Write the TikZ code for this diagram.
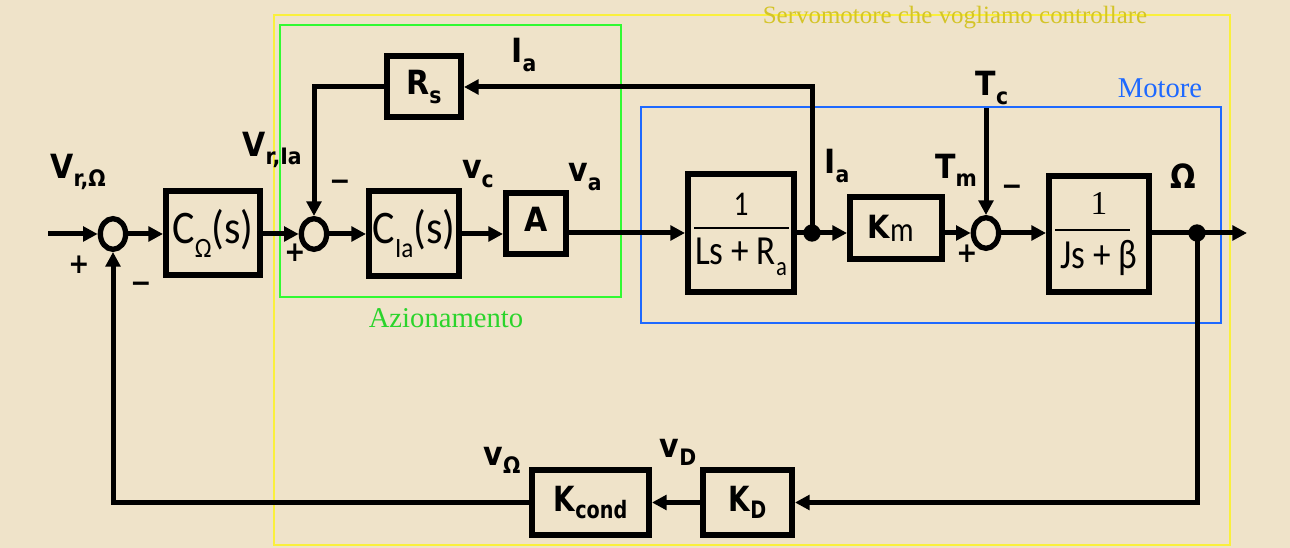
\documentclass[tikz,border=0pt]{standalone}
\usepackage{fontspec}
\usetikzlibrary{arrows.meta,shapes.geometric,calc}
\newfontfamily\lbl{DejaVu Sans Bold}[FakeStretch=0.9]
\newfontfamily\lblk{DejaVu Sans Bold}[FakeStretch=0.8]
\newfontfamily\bxc{Carlito}[FakeStretch=0.9]
\newfontfamily\bxf{Carlito}[FakeStretch=0.85]
\newfontfamily\srf{Liberation Serif}
\definecolor{bg}{RGB}{239,227,201}
\definecolor{yline}{RGB}{250,240,60}
\definecolor{ytext}{RGB}{212,196,40}
\definecolor{gline}{RGB}{50,250,50}
\definecolor{bline}{RGB}{30,105,255}
\newcommand\LB[2]{{\fontsize{25}{25}\lbl #1\raisebox{-0.45ex}{\fontsize{17}{17}\selectfont #2}}}
\newcommand\LK[2]{{\fontsize{26}{26}\lblk #1\raisebox{-0.4ex}{\fontsize{18}{18}\selectfont #2}}}
\newcommand\BX[1]{{\fontsize{35}{35}\bxc #1}}
\newcommand\bsub[1]{\raisebox{-0.3em}{\fontsize{21}{21}\selectfont #1}}
\begin{document}
\begin{tikzpicture}[x=0.75pt,y=-0.75pt,
  blk/.style={draw, line width=4.5pt, inner sep=0pt},
  sumn/.style={draw, ellipse, line width=4pt, minimum width=19pt, minimum height=23pt, inner sep=0pt},
  conn/.style={line width=3.75pt, -{Triangle[length=11pt,width=11pt]}},
  wire/.style={line width=3.75pt},
  dotn/.style={circle, fill=black, minimum size=13pt, inner sep=0pt},
  lab/.style={inner sep=0pt},
  sg/.style={inner sep=0pt, font=\fontsize{21}{21}\lbl}]
\fill[bg] (0,0) rectangle (1290,548);
\useasboundingbox (0,0) rectangle (1290,548);

% overlay frames
\draw[yline, line width=1.6pt] (274,15) rectangle (1230,545);
\draw[gline, line width=1.6pt] (280,25) rectangle (621,297);
\draw[bline, line width=1.6pt] (641,107) rectangle (1221,323);
\node[lab, text=ytext, font=\fontsize{18.7}{19}\srf] (tserv) at (955,18) {Servomotore che vogliamo controllare};
\node[lab, text=gline!85!black, font=\fontsize{21.5}{22}\srf] (taz) at (446,318) {Azionamento};
\node[lab, text=bline, font=\fontsize{21.5}{22}\srf] (tmot) at (1160,88) {Motore};

% summing junctions
\node[sumn] (s1) at (113,234) {};
\node[sumn] (s2) at (314,234) {};
\node[sumn] (s3) at (986,233) {};

% blocks
\node[blk, minimum width=70.5pt, minimum height=63pt] (CO) at (213,233) {\BX{C\bsub{Ω}(s)}};
\node[blk, minimum width=67.5pt, minimum height=63.75pt] (CIa) at (414,234) {\BX{C\bsub{Ia}(s)}};
\node[blk, minimum width=45pt, minimum height=45.75pt] (A) at (536,223.5) {\raisebox{3pt}{\LB{A}{}}};
\node[blk, minimum width=55.5pt, minimum height=45.75pt] (Rs) at (424,87) {\LB{R}{s}};
\node[blk, minimum width=79.5pt, minimum height=88.5pt] (LR) at (741,233) {};
\node[blk, minimum width=69pt, minimum height=46.5pt] (Km) at (896,228) {\hspace*{-8pt}{\fontsize{24}{24}\lbl K}\raisebox{-0.5ex}{\fontsize{26}{26}\bxf m}};
\node[blk, minimum width=75pt, minimum height=87pt] (JB) at (1099,234) {};
\node[blk, minimum width=66.75pt, minimum height=48.75pt] (KD) at (747.5,502.5) {\LK{K}{D}};
\node[blk, minimum width=87.75pt, minimum height=48.75pt] (Kc) at (590.5,502.5) {\LK{K}{cond}};

% fractions
\node[lab, font=\fontsize{26}{26}\bxf] (n1) at (741,204) {1};
\node[lab, font=\fontsize{31}{31}\bxf] (d1) at (741,257) {Ls + R\raisebox{-0.25em}{\fontsize{20}{20}\selectfont a}};
\draw[line width=1.4pt] (694,228) -- (789,228);
\node[lab, font=\fontsize{25}{25}\srf] (n2) at (1099,204) {1};
\node[lab, font=\fontsize{31}{31}\bxf] (d2) at (1099,258) {Js + β};
\draw[line width=1.4pt] (1055,230) -- (1130,230);

% dots
\node[dotn] (dot1) at (812,233) {};
\node[dotn] (dot2) at (1197,233) {};

% free ends
\coordinate (in) at (48,234);
\coordinate (out) at (1247,233);
\coordinate (tc) at (986,108);

% connectors
\draw[conn] (in) -- (s1.west);
\draw[conn] (s1.east) -- (CO.west |- s1.east);
\draw[conn] (CO.east |- s2.west) -- (s2.west);
\draw[conn] (s2.east) -- (CIa.west |- s2.east);
\draw[conn] (CIa.east) -- (CIa.east -| A.west);
\draw[conn] (A.east |- LR.west) -- (LR.west);
\draw[wire] (LR.east) -- (dot1.center);
\draw[conn] (dot1.center) -- (dot1.center -| Km.west);
\draw[conn] (Km.east |- s3.west) -- (s3.west);
\draw[conn] (s3.east) -- (JB.west |- s3.east);
\draw[wire] (JB.east |- dot2.center) -- (dot2.center);
\draw[conn] (dot2.center) -- (out);
\draw[conn] (dot1.center) |- (Rs.east);
\draw[conn] (Rs.west) -| (s2.north);
\draw[conn] (tc) -- (s3.north);
\draw[conn] (dot2.center) |- (KD.east);
\draw[conn] (KD.west) -- (Kc.east);
\draw[conn] (Kc.west) -| (s1.south);

% labels
\node[lab] (lvr) at (78,172) {\LB{V}{r,Ω}};
\node[sg] (p1) at (79,265) {+};
\node[sg] (m1) at (141,287) {−};
\node[lab] (lvri) at (272,150) {\LB{V}{r,Ia}};
\node[sg] (m2) at (340,185) {−};
\node[sg] (p2) at (295,253) {+};
\node[lab] (lvc) at (478,174) {\LB{v}{c}};
\node[lab] (lva) at (585,177) {\LB{v}{a}};
\node[lab] (lia1) at (524,55) {\LB{I}{a}};
\node[lab] (lia2) at (837,166) {\LB{I}{a}};
\node[lab] (ltc) at (992,88) {\LB{T}{c}};
\node[lab] (ltm) at (956,170) {\LB{T}{m}};
\node[sg] (m3) at (1012,190) {−};
\node[sg] (p3) at (967,254) {+};
\node[lab] (lom) at (1183,180) {\LB{Ω}{}};
\node[lab] (lvo) at (502,460) {\LB{v}{Ω}};
\node[lab] (lvd) at (678,452) {\LB{v}{D}};
\end{tikzpicture}
\end{document}
